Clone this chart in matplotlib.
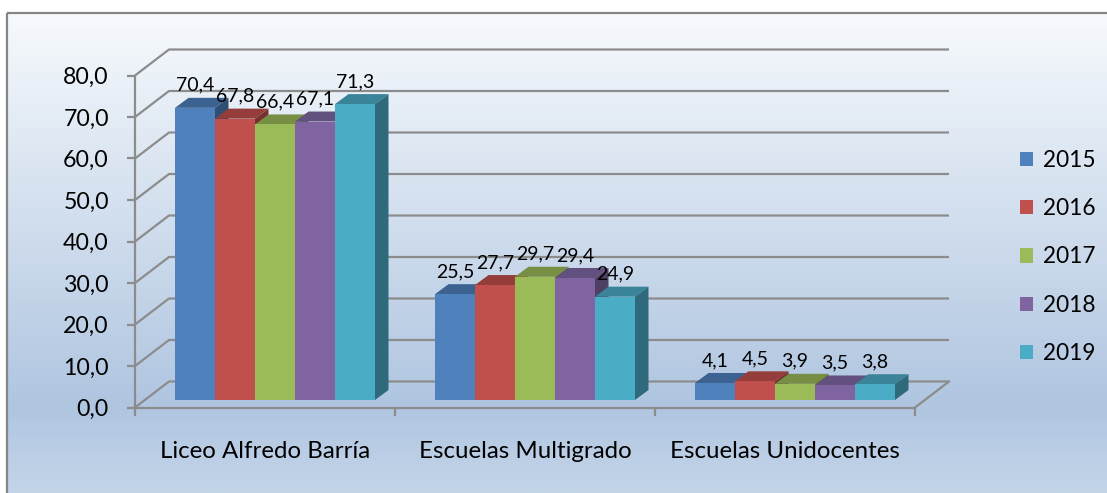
import numpy as np
from matplotlib import pyplot as plt
from matplotlib.colors import LinearSegmentedColormap
from matplotlib.patches import Patch, Polygon, Rectangle

plt.rcParams['font.family'] = ['Lato', 'DejaVu Sans']

W, H = 1107, 493

categories = ['Liceo Alfredo Barría', 'Escuelas Multigrado', 'Escuelas Unidocentes']
years = ['2015', '2016', '2017', '2018', '2019']
v2015 = [70.4, 25.5, 4.1]
v2016 = [67.8, 27.7, 4.5]
v2017 = [66.4, 29.7, 3.9]
v2018 = [67.1, 29.4, 3.5]
v2019 = [71.3, 24.9, 3.8]
series = [v2015, v2016, v2017, v2018, v2019]

front = ['#4F81BD', '#C0504D', '#9BBB59', '#8064A2', '#4BACC6']
top = ['#3C6291', '#943D3B', '#778F45', '#62507E', '#3A8499']
side = ['#2F4E74', '#76302E', '#5F7237', '#4E3F64', '#2E6A7B']
grid = '#8C8C8C'

fig = plt.figure(figsize=(W / 100, H / 100), dpi=100)

# Background panel with the gradient and grey frame
bg = fig.add_axes([0, 0, 1, 1], zorder=0)
bg.axis('off')
cmap = LinearSegmentedColormap.from_list('panel', [(0, '#F7FAFD'), (0.82, '#AFC5E0'), (1, '#C4D5E9')])
bg.imshow(np.linspace(0, 1, 256).reshape(-1, 1), cmap=cmap, aspect='auto',
          extent=(7, W, H, 13), zorder=1)
bg.set_xlim(0, W)
bg.set_ylim(H, 0)
bg.add_patch(Rectangle((7, 13), W, H, fill=False, ec='#868686', lw=1.6, zorder=2))

# Front plane of the chart: x is in categories, y in chart units
px_x = 260
px_y = 332 / 80
ax = fig.add_axes([135 / W, 1 - 407.5 / H, 780 / W, 332 / H], zorder=1)
ax.patch.set_visible(False)
ax.set_xlim(0, 3)
ax.set_ylim(0, 80)

wall_dx, wall_dy = 34 / px_x, 26 / px_y
bar_dx, bar_dy = 13.5 / px_x, 10 / px_y
base = 7.5 / px_y
bar_w = 40 / px_x
start = 40 / px_x

# Gridlines run from the axis back to the wall and then along it
for v in range(0, 90, 10):
    ax.plot([0, wall_dx, 3 + wall_dx], [v, v + wall_dy, v + wall_dy], color=grid, lw=1.6,
            clip_on=False, zorder=1, solid_capstyle='butt')
ax.plot([3, 3 + wall_dx], [0, wall_dy], color=grid, lw=1.6, clip_on=False, zorder=1)

for c in range(len(categories)):
    for s, vals in enumerate(series):
        x0 = c + start + s * bar_w
        x1 = x0 + bar_w
        yt = base + vals[c]
        ax.add_patch(Polygon([(x0, yt), (x1, yt), (x1 + bar_dx, yt + bar_dy), (x0 + bar_dx, yt + bar_dy)],
                             fc=top[s], ec='none', clip_on=False, zorder=3))
        ax.add_patch(Polygon([(x1, base), (x1 + bar_dx, base + bar_dy), (x1 + bar_dx, yt + bar_dy), (x1, yt)],
                             fc=side[s], ec='none', clip_on=False, zorder=3))
        ax.bar(x0, vals[c], width=bar_w, bottom=base, align='edge', color=front[s], clip_on=False, zorder=3)

# Labels go on top of every bar
for c in range(len(categories)):
    for s, vals in enumerate(series):
        x0 = c + start + s * bar_w
        ax.annotate(f'{vals[c]:.1f}'.replace('.', ','), (x0 + bar_w / 2, base + vals[c]),
                    xytext=(0, 17 * 0.72), textcoords='offset points', ha='center', va='baseline',
                    fontsize=14, color='black', zorder=5, annotation_clip=False)

for name in ['top', 'right']:
    ax.spines[name].set_visible(False)
for name in ['left', 'bottom']:
    ax.spines[name].set_color(grid)
    ax.spines[name].set_linewidth(1.6)
    ax.spines[name].set_zorder(2)

ax.set_yticks(range(0, 90, 10))
ax.set_yticklabels([f'{v:.1f}'.replace('.', ',') for v in range(0, 90, 10)], fontsize=16.7)
ax.set_xticks([0, 1, 2, 3])
ax.set_xticklabels([])
ax.set_xticks([0.5, 1.5, 2.5], labels=categories, minor=True, fontsize=17.3)
ax.tick_params(axis='y', length=5.8, width=1.6, color=grid, pad=13)
ax.tick_params(axis='x', which='major', length=5.8, width=1.6, color=grid)
ax.tick_params(axis='x', which='minor', length=0, pad=24)

handles = [Patch(fc=col, ec='none', label=y) for col, y in zip(front, years)]
fig.legend(handles=handles, loc='center left', bbox_to_anchor=(1020 / W, 1 - 257 / H), frameon=False,
           fontsize=16.3, handlelength=0.58, handleheight=0.58, handletextpad=0.42, labelspacing=1.21,
           borderpad=0, borderaxespad=0)

plt.savefig('out.png', dpi=100)
